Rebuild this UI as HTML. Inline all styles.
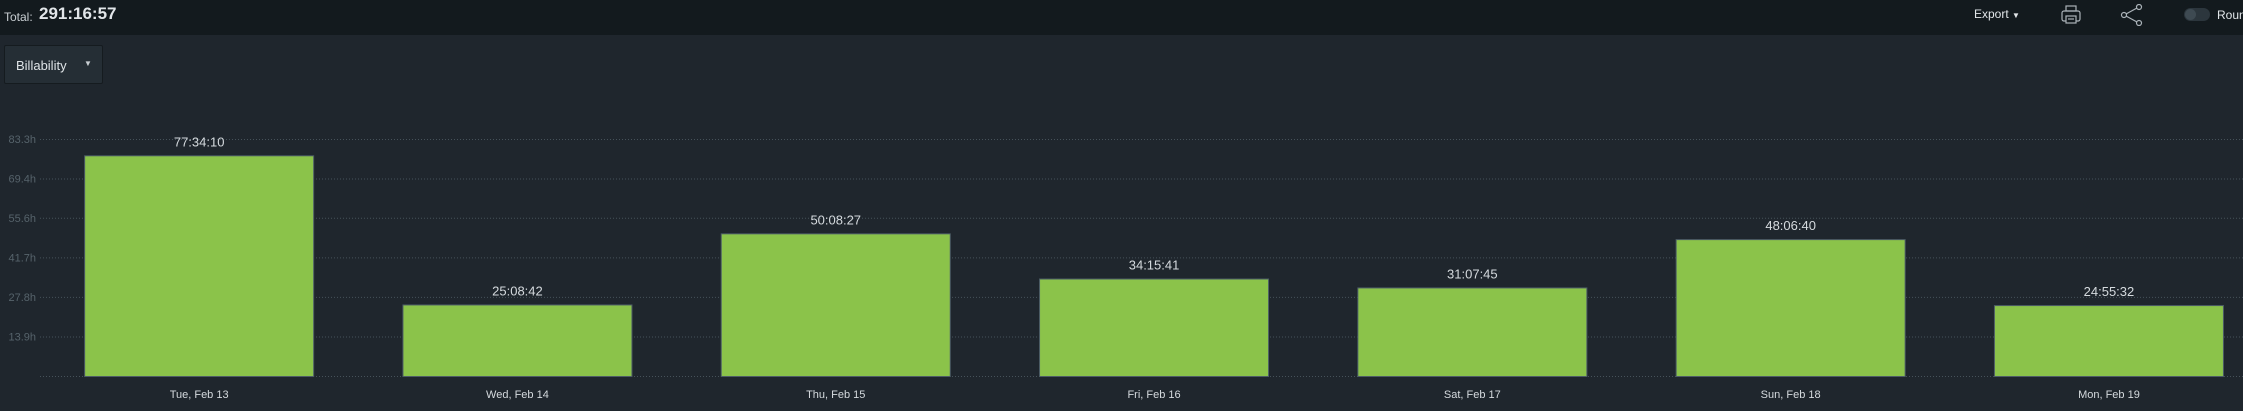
<!DOCTYPE html>
<html><head><meta charset="utf-8"><style>
*{margin:0;padding:0;box-sizing:border-box}
body{width:2243px;height:411px;background:#1f262d;font-family:"Liberation Sans",sans-serif;overflow:hidden;position:relative;color:#d5dade}
#hdr{position:absolute;left:0;top:0;width:2243px;height:35px;background:#131a1e}
.abs{position:absolute}
#dd{position:absolute;left:4px;top:45px;width:99px;height:39px;background:#252e35;border:1px solid #151b1f;border-radius:2px}
</style></head><body>
<div id="hdr">
 <span class="abs" style="left:4px;top:10px;font-size:12px;color:#c8ced2">Total:</span>
 <span class="abs" style="left:39px;top:4px;font-size:17px;font-weight:bold;color:#e2e6e9">291:16:57</span>
 <span class="abs" style="left:1974px;top:7px;font-size:12px;color:#e2e6e9">Export <span style="font-size:8px">▼</span></span>
 <svg class="abs" style="left:2060px;top:4px" width="24" height="22"><g fill="none" stroke="#aab2b8" stroke-width="1.2"><rect x="6" y="2" width="10" height="5"/><rect x="2" y="7" width="18" height="10" rx="2"/><rect x="6" y="12" width="10" height="7" fill="#131a1e"/><line x1="8" y1="15" x2="14" y2="15"/></g></svg>
 <svg class="abs" style="left:2120px;top:4px" width="24" height="22"><g fill="none" stroke="#aab2b8" stroke-width="1.2"><circle cx="19" cy="3" r="2.5"/><circle cx="4" cy="11" r="2.5"/><circle cx="19" cy="19" r="2.5"/><line x1="6" y1="10" x2="17" y2="4"/><line x1="6" y1="12" x2="17" y2="18"/></g></svg>
 <div class="abs" style="left:2184px;top:8px;width:26px;height:13px;border-radius:7px;background:#2c363d"><div style="width:11px;height:11px;margin:1px;border-radius:6px;background:#3e4a52"></div></div>
 <span class="abs" style="left:2217px;top:8px;font-size:12px;color:#e2e6e9">Roun</span>
</div>
<div id="dd"><span class="abs" style="left:11px;top:12px;font-size:13px;color:#dfe4e7">Billability</span><span class="abs" style="left:79px;top:13px;font-size:8px;color:#c8ced2">▼</span></div>
<svg id="chart" class="abs" style="left:0;top:0" width="2243" height="411"></svg>
<script>
const categories=["Tue, Feb 13","Wed, Feb 14","Thu, Feb 15","Fri, Feb 16","Sat, Feb 17","Sun, Feb 18","Mon, Feb 19"];
const valueLabels=["77:34:10","25:08:42","50:08:27","34:15:41","31:07:45","48:06:40","24:55:32"];
const tickValues=[13.9,27.8,41.7,55.6,69.4,83.3];
const tickLabels=["13.9h","27.8h","41.7h","55.6h","69.4h","83.3h"];
const NS="http://www.w3.org/2000/svg";
const svg=document.getElementById('chart');
const y0=376,yTop=139,maxV=83.3,x0=40,pitch=318.3,bw=230;
function toH(s){const p=s.split(':').map(Number);return p[0]+p[1]/60+p[2]/3600;}
function y(v){return y0-(v/maxV)*(y0-yTop);}
function xc(i){return x0+pitch*(i+0.5);}
function mk(t,a){const e=document.createElementNS(NS,t);for(const k in a)e.setAttribute(k,a[k]);svg.appendChild(e);return e;}
[0].concat(tickValues).forEach((v,i)=>{
 const l=mk('line',{x1:40,x2:2243,y1:y(v)+0.5,y2:y(v)+0.5,stroke:'#46525a','stroke-dasharray':'1,2'});
 
 
 if(i>0){const t=mk('text',{x:36,y:y(v)+4,'text-anchor':'end','font-size':11,fill:'#56636b'});t.textContent=tickLabels[i-1];
 
 }
});
categories.forEach((c,i)=>{
 const v=toH(valueLabels[i]);const top=y(v);
 const r=mk('rect',{x:xc(i)-bw/2+0.5,y:top+0.5,width:bw-1,height:y0-top,fill:'#8bc34a',stroke:'#4d5d66','stroke-width':1});
 
 
 const t=mk('text',{x:xc(i),y:top-9,'text-anchor':'middle','font-size':13,fill:'#d5dade'});t.textContent=valueLabels[i];
 
 
 const xl=mk('text',{x:xc(i),y:398,'text-anchor':'middle','font-size':11,fill:'#d5dade'});xl.textContent=c;
 
 
});
</script>
</body></html>
